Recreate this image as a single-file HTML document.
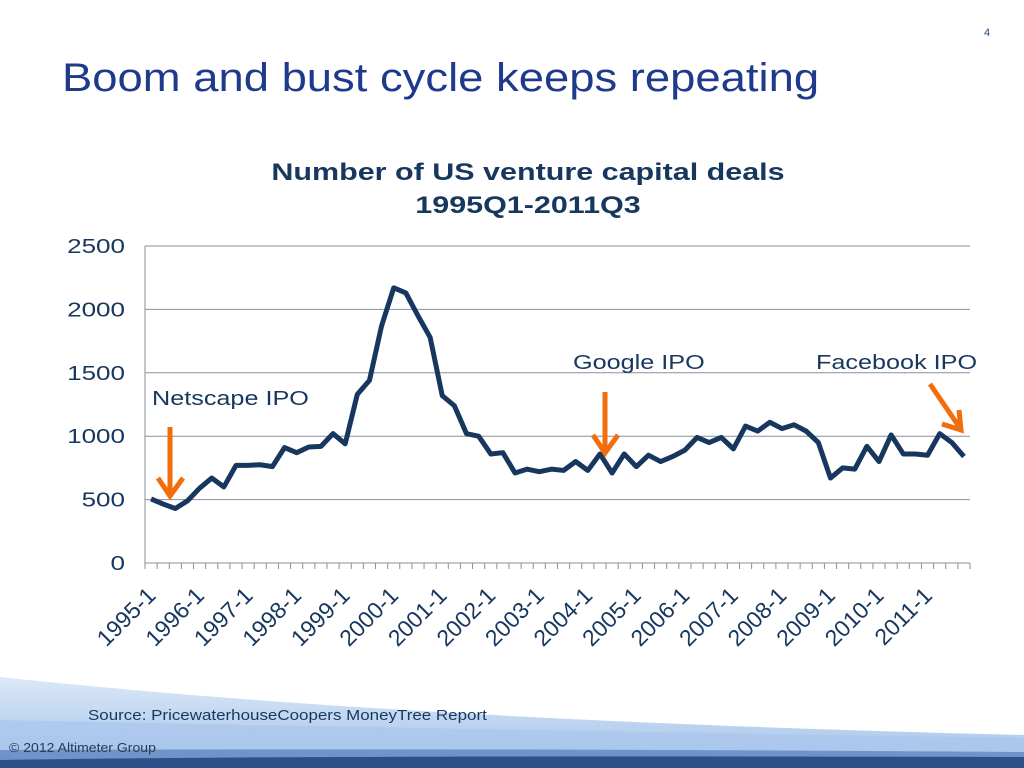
<!DOCTYPE html>
<html><head><meta charset="utf-8"><style>
body{margin:0;width:1024px;height:768px;overflow:hidden;background:#fff;font-family:"Liberation Sans",sans-serif}
</style></head><body>
<svg id="svg" width="1024" height="768" style="position:absolute;left:0;top:0">
<defs>
<linearGradient id="wg" x1="0" y1="0" x2="0" y2="1"><stop offset="0" stop-color="#dce9f8"/><stop offset="1" stop-color="#9fc0e8"/></linearGradient>
</defs>
<g>
<path d="M0 677 Q400 720 1024 735 L1024 768 L0 768Z" fill="url(#wg)"/>
<path d="M0 720 Q500 730 1024 738 L1024 768 L0 768Z" fill="#a9c6ec" opacity="0.7"/>
<path d="M0 750 Q500 748 1024 752 L1024 768 L0 768Z" fill="#6f95c8"/>
<path d="M0 760 Q300 755 1024 757 L1024 768 L0 768Z" fill="#2c5088"/>
</g>
<text x="984" y="36" font-size="11" fill="#1f497d">4</text>
<text class="st" data-s="1.135" x="62" y="91" font-size="40" fill="#1f3a8a">Boom and bust cycle keeps repeating</text>
<text class="st" data-s="1.27" x="528" y="180" font-size="24" font-weight="bold" fill="#17375e" text-anchor="middle">Number of US venture capital deals</text>
<text class="st" data-s="1.27" x="528" y="213" font-size="24" font-weight="bold" fill="#17375e" text-anchor="middle">1995Q1-2011Q3</text>
<g id="chart"></g>
<text class="st" data-s="1.26" x="152" y="405" font-size="20" fill="#17375e">Netscape IPO</text>
<text class="st" data-s="1.26" x="573" y="369" font-size="20" fill="#17375e">Google IPO</text>
<text class="st" data-s="1.26" x="816" y="369" font-size="20" fill="#17375e">Facebook IPO</text>
<g fill="none" stroke="#f26d0c" stroke-width="5">
<path d="M170 427 L170 495 M158 478 L170 496 L183 478"/>
<path d="M605 392 L605 452 M593 435 L605 453 L618 435"/>
<path d="M930 384 L960 428 M942 424 L961 430 L959 410"/>
</g>
<text class="st" data-s="1.13" x="88" y="720" font-size="15" fill="#17375e">Source: PricewaterhouseCoopers MoneyTree Report</text>
<text class="st" data-s="1.08" x="9" y="752" font-size="13" fill="#2a3a55">© 2012 Altimeter Group</text>
</svg>
<script>
const years=['1995','1996','1997','1998','1999','2000','2001','2002','2003','2004','2005','2006','2007','2008','2009','2010','2011'];
const yTicks=[0,500,1000,1500,2000,2500];
const deals=[505,465,430,490, 590,670,600,770, 770,775,760,910, 870,915,920,1020, 940,1330,1440,1870, 2170,2130,1950,1780, 1320,1240,1020,1000, 860,870,710,740, 720,740,730,800, 730,860,710,860, 760,850,800,840, 890,990,950,990, 900,1080,1040,1110, 1060,1090,1040,950, 670,750,740,920, 800,1010,860,860, 850,1020,950,840];
const NS='http://www.w3.org/2000/svg';
const g=document.getElementById('chart');
const x0=145,x1=970,y0=563,yTop=246,ymax=2500;
const n=deals.length, bw=(x1-x0)/n;
const X=i=>x0+bw*(i+0.5);
const Y=v=>y0-(v/ymax)*(y0-yTop);
function mk(t,a){const e=document.createElementNS(NS,t);for(const k in a)e.setAttribute(k,a[k]);g.appendChild(e);return e;}
yTicks.forEach(v=>{
 if(v>0){const l=mk('line',{x1:x0,x2:x1,y1:Y(v),y2:Y(v),stroke:'#8a8f99','stroke-width':1});
 
 }
 const t=mk('text',{x:125,y:Y(v)+7,'font-size':20,fill:'#17375e','text-anchor':'end',class:'st','data-s':'1.3'});t.textContent=v;
 
 
});
const ax=mk('line',{x1:x0,x2:x0,y1:yTop,y2:y0,stroke:'#8a8f99'});


const bx=mk('line',{x1:x0,x2:x1,y1:y0,y2:y0,stroke:'#8a8f99'});


for(let i=0;i<=n;i++){const t=mk('line',{x1:x0+bw*i,x2:x0+bw*i,y1:y0,y2:y0+6,stroke:'#8a8f99'});
 
 }
years.forEach((yr,k)=>{const cx=X(k*4)+6,cy=y0+34;
 const t=mk('text',{x:cx,y:cy,'font-size':23,fill:'#17375e','text-anchor':'end',transform:`rotate(-45 ${cx} ${cy})`});
 t.textContent=yr+'-1';
 
 });
const p=mk('polyline',{points:deals.map((v,i)=>X(i)+','+Y(v)).join(' '),fill:'none',stroke:'#17375e','stroke-width':5,'stroke-linejoin':'round'});


document.querySelectorAll('text.st').forEach(t=>{
 const s=parseFloat(t.getAttribute('data-s'));
 const L=t.getComputedTextLength();
 t.setAttribute('textLength',(L*s).toFixed(1));
 t.setAttribute('lengthAdjust','spacingAndGlyphs');
});
</script>
</body></html>
